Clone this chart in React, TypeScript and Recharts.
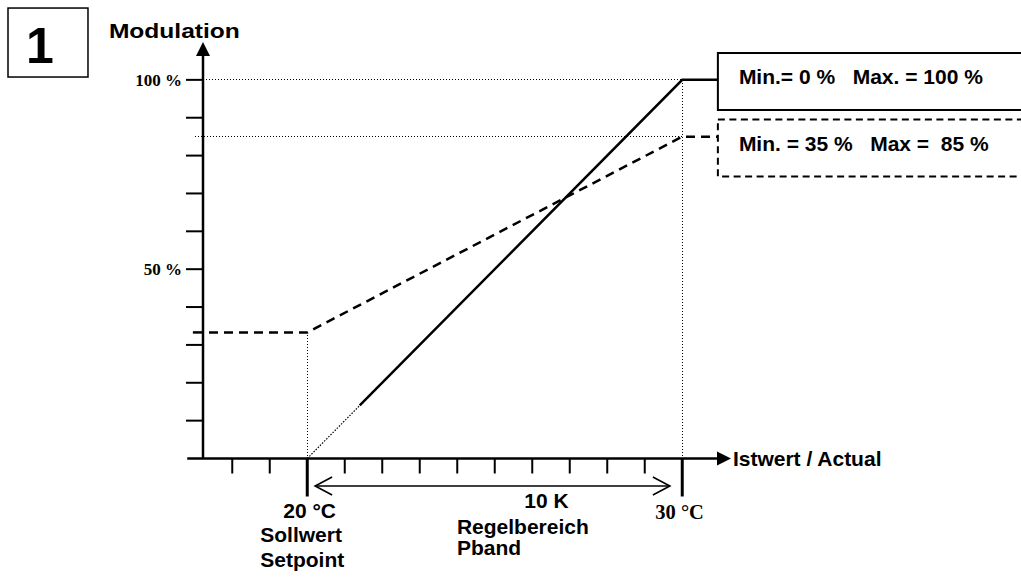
import React from 'react';
import { ComposedChart, Line, XAxis, YAxis, ReferenceLine, ReferenceArea, ReferenceDot } from 'recharts';

// ---------------- data ----------------
const solidX = [21.4, 30, 30.95];
const solidY = [14, 100, 100];
const leadX = [20, 21.4];
const leadY = [0, 14];
const dashedX = [17.22, 20, 30, 30.95];
const dashedY = [33.3, 33.3, 85, 85];
const yTicks = [10, 20, 30, 40, 50, 60, 70, 80, 90, 100];
const yTickLabels: Record<number, string> = { 50: '50 %', 100: '100 %' };
const xTicks = [18, 19, 20, 21, 22, 23, 24, 25, 26, 27, 28, 29, 30];
const setpoint = 20;
const bandEnd = 30;
const maxMod = 100;
const highMod = 85;
const setpointLabels = ['20 °C', 'Sollwert', 'Setpoint'];
const bandEndLabel = '30 °C';
const bandLabels = ['10 K', 'Regelbereich', 'Pband'];
const legendSolid = 'Min.= 0 %   Max. = 100 %';
const legendDashed = 'Min. = 35 %   Max =  85 %';
const yTitle = 'Modulation';
const xTitle = 'Istwert / Actual';
const panelNumber = '1';

// ---------------- layout (data units) ----------------
const X_DOMAIN: [number, number] = [17.22, 31.3];
const Y_DOMAIN: [number, number] = [0, 110];

const toPts = (xs: number[], ys: number[]) => xs.map((x, i) => ({ x, y: ys[i] }));

const sans = { fontFamily: '"Liberation Sans", Arial, sans-serif', fontWeight: 700, fontSize: 21, fill: '#000' };
const serif17 = { fontFamily: '"Liberation Serif", "Times New Roman", serif', fontWeight: 700, fontSize: 17, fill: '#000' };
const serif20 = { fontFamily: '"Liberation Serif", "Times New Roman", serif', fontWeight: 700, fontSize: 20.5, fill: '#000' };

const YTick = (props: any) => {
  const { x, y, payload } = props;
  const lbl = yTickLabels[payload?.value];
  if (!lbl) return <g />;
  return (
    <text x={x} y={y + 6} textAnchor="end" {...serif17} style={{ whiteSpace: 'pre' }}>
      {lbl}
    </text>
  );
};

const XTick = (props: any) => {
  const { x, y, payload } = props;
  const v = payload?.value;
  const major = v === setpoint || v === bandEnd;
  return (
    <g>
      <line x1={x} x2={x} y1={y} y2={y + (major ? 38 : 15)} stroke="#000" strokeWidth={major ? 3 : 2} />
      {v === setpoint && (
        <g>
          <text x={x - 24} y={y + 59.8} {...sans}>{setpointLabels[0]}</text>
          <text x={x - 47} y={y + 83.2} {...sans}>{setpointLabels[1]}</text>
          <text x={x - 47} y={y + 108.2} {...sans}>{setpointLabels[2]}</text>
        </g>
      )}
      {v === bandEnd && (
        <text x={x - 27} y={y + 60.5} {...serif20}>{bandEndLabel}</text>
      )}
    </g>
  );
};

const axisArrow = (props: any) => {
  const { x1, y1, x2, y2 } = props;
  const dx = x2 - x1;
  const dy = y2 - y1;
  const len = Math.hypot(dx, dy) || 1;
  const ux = dx / len;
  const uy = dy / len;
  const head = 14;
  const half = 7;
  const bx = x2 - ux * head;
  const by = y2 - uy * head;
  const px = -uy;
  const py = ux;
  return (
    <g>
      <line x1={x1} y1={y1} x2={bx + ux * 1} y2={by + uy * 1} stroke="#000" strokeWidth={2.5} />
      <polygon
        points={`${x2},${y2} ${bx + px * half},${by + py * half} ${bx - px * half},${by - py * half}`}
        fill="#000"
      />
    </g>
  );
};

const bandArrow = (props: any) => {
  const { x1, y1, x2, y2 } = props;
  const head = 17;
  const half = 9;
  return (
    <g fill="none" stroke="#000" strokeWidth={1.6}>
      <line x1={x1} y1={y1} x2={x2} y2={y2} />
      <polyline points={`${x1 + head},${y1 - half} ${x1},${y1} ${x1 + head},${y1 + half}`} />
      <polyline points={`${x2 - head},${y2 - half} ${x2},${y2} ${x2 - head},${y2 + half}`} />
    </g>
  );
};

const textShape = (s: string, anchor: 'start' | 'middle' | 'end', font: any, extra: any = {}) => (p: any) => (
  <text x={p.cx} y={p.cy} textAnchor={anchor} {...font} {...extra} style={{ whiteSpace: 'pre' }}>
    {s}
  </text>
);

const legendBox = (label: string, dashed: boolean) => (p: any) => {
  const { x, y, width, height } = p;
  return (
    <g>
      <rect
        x={x}
        y={y}
        width={width}
        height={height}
        fill="#fff"
        stroke="#000"
        strokeWidth={2}
        strokeDasharray={dashed ? '7 4.5' : undefined}
      />
      <text x={x + 21} y={y + 31.3} {...sans} style={{ whiteSpace: 'pre' }}>
        {label}
      </text>
    </g>
  );
};

const panelBox = (p: any) => {
  const { x, y, width, height } = p;
  return (
    <g>
      <rect x={x} y={y} width={width} height={height} fill="#fff" stroke="#000" strokeWidth={1.5} />
      <text x={x + 32} y={y + 55} textAnchor="middle" {...sans} fontSize={50}>
        {panelNumber}
      </text>
    </g>
  );
};

const dotted = { stroke: '#000', strokeWidth: 1, strokeDasharray: '1 2', shapeRendering: 'crispEdges' };

export default function App() {
  return (
    <div style={{ position: 'absolute', left: 0, top: 0, width: 1021, height: 581, background: '#fff' }}>
      <ComposedChart width={1021} height={581} margin={{ top: 42, right: 290, bottom: 0, left: 0 }}>
        <XAxis
          type="number"
          dataKey="x"
          domain={X_DOMAIN}
          allowDataOverflow
          ticks={xTicks}
          interval={0}
          height={122.5}
          axisLine={false}
          tickLine={false}
          tickSize={0}
          tickMargin={0}
          tick={(p: any) => <XTick {...p} />}
        />
        <YAxis
          type="number"
          dataKey="y"
          domain={Y_DOMAIN}
          allowDataOverflow
          ticks={yTicks}
          interval={0}
          width={203}
          axisLine={false}
          tickLine={{ stroke: '#000', strokeWidth: 2 }}
          tickSize={17}
          tickMargin={4}
          tick={(p: any) => <YTick {...p} />}
        />

        {/* guide lines */}
        <ReferenceLine segment={[{ x: X_DOMAIN[0], y: maxMod }, { x: bandEnd, y: maxMod }]} ifOverflow="visible" {...dotted} />
        <ReferenceLine segment={[{ x: 17.0, y: highMod }, { x: bandEnd, y: highMod }]} ifOverflow="visible" {...dotted} />
        <ReferenceLine segment={[{ x: setpoint, y: 0 }, { x: setpoint, y: dashedY[1] }]} ifOverflow="visible" {...dotted} />
        <ReferenceLine segment={[{ x: bandEnd, y: 0 }, { x: bandEnd, y: maxMod }]} ifOverflow="visible" {...dotted} />

        {/* series */}
        <Line
          data={toPts(leadX, leadY)}
          dataKey="y"
          type="linear"
          stroke="#000"
          strokeWidth={1.2}
          strokeDasharray="1.5 1.5"
          dot={false}
          activeDot={false}
          isAnimationActive={false}
        />
        <Line
          data={toPts(solidX, solidY)}
          dataKey="y"
          type="linear"
          stroke="#000"
          strokeWidth={2.5}
          dot={false}
          activeDot={false}
          isAnimationActive={false}
        />
        <Line
          data={toPts(dashedX, dashedY)}
          dataKey="y"
          type="linear"
          stroke="#000"
          strokeWidth={2.5}
          strokeDasharray="9 6"
          strokeDashoffset={9}
          dot={false}
          activeDot={false}
          isAnimationActive={false}
        />
        <ReferenceLine
          segment={[{ x: 16.95, y: dashedY[0] }, { x: X_DOMAIN[0], y: dashedY[0] }]}
          ifOverflow="visible"
          stroke="#000"
          strokeWidth={2.5}
        />

        {/* axes with arrows */}
        <ReferenceLine segment={[{ x: 16.8, y: 0 }, { x: 31.3, y: 0 }]} ifOverflow="visible" shape={axisArrow} />
        <ReferenceLine segment={[{ x: X_DOMAIN[0], y: 0 }, { x: X_DOMAIN[0], y: 110 }]} ifOverflow="visible" shape={axisArrow} />

        {/* P-band arrow */}
        <ReferenceLine segment={[{ x: 20.21, y: -7.27 }, { x: 29.67, y: -7.27 }]} ifOverflow="visible" shape={bandArrow} />

        {/* texts */}
        <ReferenceDot x={26.38} y={-13.07} r={0} ifOverflow="visible" shape={textShape(bandLabels[0], 'middle', sans)} />
        <ReferenceDot x={23.99} y={-19.94} r={0} ifOverflow="visible" shape={textShape(bandLabels[1], 'start', sans)} />
        <ReferenceDot x={23.99} y={-25.49} r={0} ifOverflow="visible" shape={textShape(bandLabels[2], 'start', sans)} />
        <ReferenceDot x={31.35} y={-1.85} r={0} ifOverflow="visible" shape={textShape(xTitle, 'start', sans)} />
        <ReferenceDot
          x={14.71}
          y={111.06}
          r={0}
          ifOverflow="visible"
          shape={textShape(yTitle, 'start', sans, { textLength: 131, lengthAdjust: 'spacingAndGlyphs' })}
        />

        {/* legend boxes */}
        <ReferenceArea x1={30.95} x2={40} y1={92.04} y2={107.09} ifOverflow="visible" shape={legendBox(legendSolid, false)} />
        <ReferenceArea x1={30.95} x2={40} y1={74.47} y2={89.52} ifOverflow="visible" shape={legendBox(legendDashed, true)} />

        {/* panel number */}
        <ReferenceArea x1={12.02} x2={14.153} y1={100.75} y2={118.97} ifOverflow="visible" shape={panelBox} />
      </ComposedChart>
    </div>
  );
}
